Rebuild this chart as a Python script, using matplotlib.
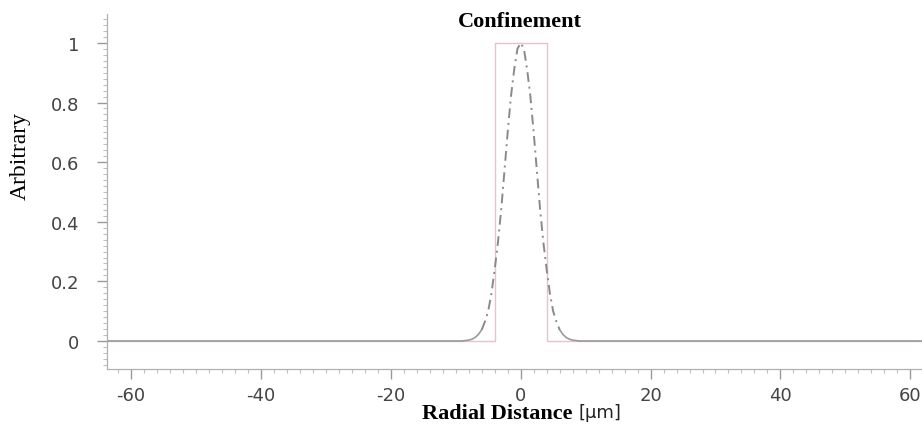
import numpy as np
import matplotlib
matplotlib.use("Agg")
import matplotlib.pyplot as plt
from matplotlib.ticker import MultipleLocator

# confinement (step) profile
rect_x = [-63.5, -4, -4, 4, 4, 62.5]
rect_y = [0, 0, 1, 1, 0, 0]

# mode profile
mode_x = [-63.5, -9, -8, -7.5, -7, -6.5, -6, -5.5, -5, -4.5, -4, -3.5, -3, -2.5, -2, -1.5, -1, -0.5, 0,
          0.5, 1, 1.5, 2, 2.5, 3, 3.5, 4, 4.5, 5, 5.5, 6, 6.5, 7, 7.5, 8, 9, 62.5]
mode_y = [0, 0, 0.003, 0.006, 0.012, 0.022, 0.038, 0.065, 0.10, 0.16, 0.24, 0.33, 0.44, 0.57, 0.70, 0.82, 0.91, 0.98, 1.0,
          0.98, 0.91, 0.82, 0.70, 0.57, 0.44, 0.33, 0.24, 0.16, 0.10, 0.065, 0.038, 0.022, 0.012, 0.006, 0.003, 0, 0]

x_major = [-60, -40, -20, 0, 20, 40, 60]
y_major = [0, 0.2, 0.4, 0.6, 0.8, 1]
y_labels = ["0", "0.2", "0.4", "0.6", "0.8", "1"]

fig = plt.figure(figsize=(9.22, 4.27), dpi=100)
ax = fig.add_axes([107 / 922, 1 - 370 / 427, 1 - 107 / 922, (370 - 15) / 427])

mx = np.array(mode_x)
my = np.array(mode_y)
left_tail = mx <= -6
right_tail = mx >= 6
core = np.abs(mx) <= 6
ax.plot(rect_x, rect_y, color="#e2c4cc", lw=1.0, zorder=2)
ax.plot(mx[left_tail], my[left_tail], color="#9a9a9a", lw=1.2, zorder=3)
ax.plot(mx[right_tail], my[right_tail], color="#9a9a9a", lw=1.2, zorder=3)
ax.plot(mx[core], my[core], color="#8a8a8a", lw=1.4, ls=(0, (5, 2.5, 1, 2.5)), zorder=4)

ax.set_xlim(-63.7, 61.8)
ax.set_ylim(-0.094, 1.097)

for s in ["top", "right"]:
    ax.spines[s].set_visible(False)
for s in ["left", "bottom"]:
    ax.spines[s].set_color("#b0b0b0")
    ax.spines[s].set_linewidth(0.9)

ax.set_xticks(x_major)
ax.set_xticklabels([str(v) for v in x_major])
ax.set_yticks(y_major)
ax.set_yticklabels(y_labels)
ax.xaxis.set_minor_locator(MultipleLocator(2))
ax.yaxis.set_minor_locator(MultipleLocator(0.02))
ax.tick_params(which="major", direction="out", length=7, width=1.0, color="#999999",
               labelcolor="#444444", labelsize=13)
ax.tick_params(axis="y", which="major", pad=13)
ax.tick_params(axis="x", which="major", pad=5)
ax.tick_params(which="minor", direction="out", length=3, width=0.8, color="#c0c0c0")
for lab in ax.get_xticklabels() + ax.get_yticklabels():
    lab.set_family("DejaVu Sans")

fig.text(520 / 922, 1 - 22 / 427, "Confinement", family="Liberation Serif", weight="bold",
         fontsize=16, ha="center", va="center")
fig.text(20 / 922, 1 - 156 / 427, "Arbitrary", family="Liberation Serif", fontsize=17,
         rotation=90, ha="center", va="center")
fig.text(573 / 922, 1 - 414 / 427, "Radial Distance", family="Liberation Serif", weight="bold",
         fontsize=16, ha="right", va="center")
fig.text(579 / 922, 1 - 413 / 427, "[μm]", family="DejaVu Sans", fontsize=13,
         ha="left", va="center", color="#222222")

fig.savefig("out.png", dpi=100)
